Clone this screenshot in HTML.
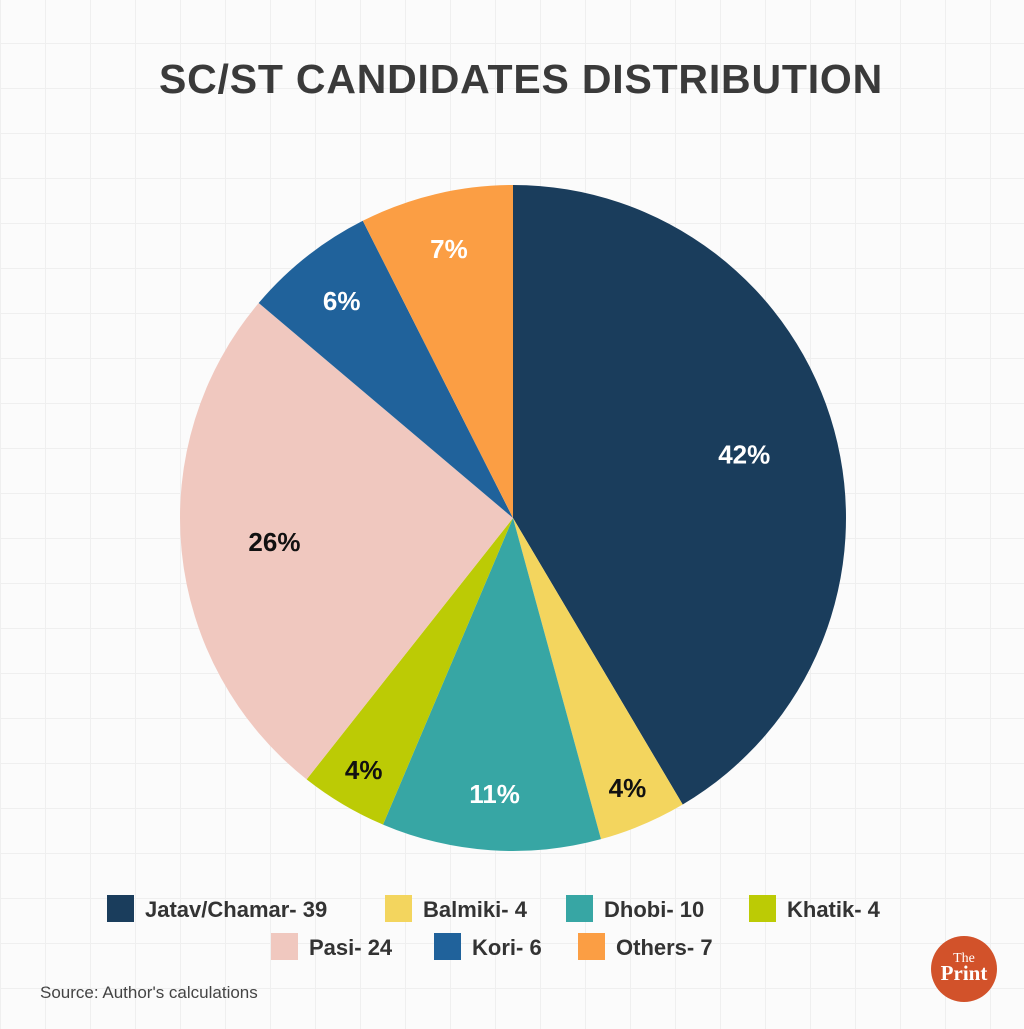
<!DOCTYPE html>
<html><head><meta charset="utf-8"><style>
html,body{margin:0;padding:0}
body{width:1024px;height:1024px;overflow:hidden;background:#fbfbfb;font-family:"Liberation Sans",sans-serif;
background-image:linear-gradient(#efefef 1px,transparent 1px),linear-gradient(90deg,#efefef 1px,transparent 1px);background-size:45px 45px;background-position:0 43px}
</style></head><body>
<svg width="1024" height="1024" viewBox="0 0 1024 1024">
<text x="521" y="93" text-anchor="middle" font-family="Liberation Sans" font-weight="bold" font-size="41" letter-spacing="0.8" fill="#3a3a3a">SC/ST CANDIDATES DISTRIBUTION</text>
<g id="pie"></g>
<g id="legend"></g>
<text x="40" y="998" font-size="17" fill="#444">Source: Author's calculations</text>
<g>
<circle cx="964" cy="969" r="33" fill="#d2522a"/>
<text x="964" y="962" text-anchor="middle" font-family="Liberation Serif" font-size="14" fill="#fff">The</text>
<text x="964" y="980" text-anchor="middle" font-family="Liberation Serif" font-weight="bold" font-size="21" fill="#fff">Print</text>
</g>
</svg>
<script>
const categories=["Jatav/Chamar","Balmiki","Dhobi","Khatik","Pasi","Kori","Others"];
const values=[39,4,10,4,24,6,7];
const pctLabels=["42%","4%","11%","4%","26%","6%","7%"];
const colors=["#1a3d5c","#f3d55e","#37a6a4","#bccb05","#f0c8bf","#20629b","#fb9e44"];
const labelColors=["#fff","#111","#fff","#111","#111","#fff","#fff"];
const NS="http://www.w3.org/2000/svg";
const cx=513,cy=518,R=333;
const total=values.reduce((a,b)=>a+b,0);
const pie=document.getElementById('pie');
let a0=0;
function pt(a,r){return [cx+r*Math.sin(a),cy-r*Math.cos(a)];}
values.forEach((v,i)=>{
  const a1=a0+v/total*2*Math.PI;
  const p0=pt(a0,R),p1=pt(a1,R);
  const path=document.createElementNS(NS,'path');
  path.setAttribute('d',`M${cx},${cy}L${p0[0]},${p0[1]}A${R},${R} 0 ${a1-a0>Math.PI?1:0} 1 ${p1[0]},${p1[1]}Z`);
  path.setAttribute('fill',colors[i]);
  
  
  pie.appendChild(path);
  const frac=v/total;
  const rf=frac>0.2?0.72:(frac<0.05?0.88:0.83);
  const m=pt((a0+a1)/2,R*rf);
  const t=document.createElementNS(NS,'text');
  t.setAttribute('x',m[0]);t.setAttribute('y',m[1]+9);
  t.setAttribute('text-anchor','middle');t.setAttribute('font-weight','bold');t.setAttribute('font-size','26');
  t.setAttribute('fill',labelColors[i]);
  t.textContent=pctLabels[i];
  
  
  pie.appendChild(t);
  a0=a1;
});
const legendPos=[[107,909],[385,909],[566,909],[749,909],[271,947],[434,947],[578,947]];
const lg=document.getElementById('legend');
categories.forEach((c,i)=>{
  const [x,y]=legendPos[i];
  const r=document.createElementNS(NS,'rect');
  r.setAttribute('x',x);r.setAttribute('y',y-14);r.setAttribute('width',27);r.setAttribute('height',27);r.setAttribute('fill',colors[i]);
  
  
  lg.appendChild(r);
  const t=document.createElementNS(NS,'text');
  t.setAttribute('x',x+38);t.setAttribute('y',y+8);t.setAttribute('font-size','22');t.setAttribute('font-weight','bold');t.setAttribute('fill','#333');
  t.textContent=c+"- "+values[i];
  
  
  lg.appendChild(t);
});
</script>
</body></html>
